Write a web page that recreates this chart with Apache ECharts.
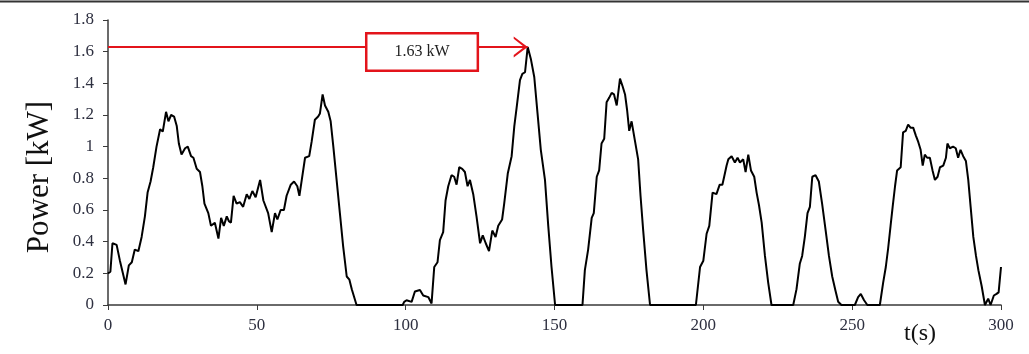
<!DOCTYPE html>
<html>
<head>
<meta charset="utf-8">
<script src="https://cdn.jsdelivr.net/npm/echarts@6/dist/echarts.min.js"></script>
<style>
  html, body { margin: 0; padding: 0; background: #fff; }
  #chart { width: 1029px; height: 354px; }
</style>
</head>
<body>
<div id="chart"></div>
<script>
// Drive-cycle power demand, time in seconds
const timeS = [
  0, 0.8, 1.5, 2.9, 4, 5.9, 7, 8, 9, 10.2, 10.7, 11.3, 12.4, 13.3, 14.3, 15.2, 16.3, 17.5, 18.4, 19.5,
  20.3, 21.2, 22.2, 23.1, 23.8, 24.7, 25.9, 26.8, 27.9, 28.7, 29.8, 30.9, 31.7, 32.4, 33.7, 34.6, 35.9, 37.1, 38, 38.9,
  39.9, 40.6, 41.3, 42.2, 43.2, 44.3, 45.4, 46.6, 47.5, 48.5, 49.6, 51.1, 52.2, 53.8, 55, 56.1, 56.9, 58, 59.1, 60,
  61.4, 62.5, 63.6, 64.3, 65.1, 66.2, 67.6, 68.4, 69.5, 70.6, 71.2, 72.1, 72.9, 74, 74.8, 75.7, 76.8, 77.9, 79, 80.2,
  81.1, 81.9, 83.5, 99, 99.5, 100.3, 102, 103.1, 104.8, 105.9, 107.6, 108.7, 109.6, 110.7, 111.5, 112.6, 113.4, 114.3, 115.4, 116.3,
  117.1, 118, 119, 119.9, 120.8, 121.6, 122.7, 123.8, 125, 125.9, 126.9, 128, 129.1, 130.2, 131.1, 132.4, 133.1, 134.3, 135.6, 136.5,
  137.3, 138.4, 139.2, 140.1, 141, 142.1, 143.2, 144.3, 145.4, 146.8, 147.9, 149, 150.2, 159.4, 160.2, 161.3, 162.5, 163.2, 164.2, 165,
  165.8, 166.7, 167.5, 168.4, 169.2, 170, 170.9, 172, 172.9, 173.7, 174.4, 175.1, 175.9, 177, 178.1, 178.9, 179.8, 180.9, 182.1, 197.5,
  198.9, 200, 201.1, 202, 203.1, 204.4, 205.5, 206.4, 207, 207.8, 208.4, 209.5, 210.6, 211.5, 212.3, 213.4, 214.2, 215.1, 216, 217.1,
  217.9, 218.7, 219.6, 220.7, 221.8, 222.9, 230.2, 231.3, 232.4, 233.2, 234.1, 235, 235.8, 236.6, 237.7, 238.8, 239.9, 241.1, 242.2, 243.3,
  244.4, 245.3, 246.4, 250.9, 252, 252.9, 254, 255.1, 259.3, 260.4, 261.3, 262.1, 262.9, 263.6, 264.4, 265.1, 266.3, 267.1, 268, 268.8,
  269.6, 270.5, 271.4, 272.2, 273, 273.7, 274.4, 275.2, 276.1, 277, 277.8, 278.7, 279.5, 280.6, 281.5, 282, 282.8, 283.9, 284.8, 285.6,
  286.4, 287.3, 288.2, 289, 289.8, 290.7, 291.6, 292.4, 293.5, 294.6, 295.7, 296.5, 297.6, 298.5, 299.2, 300
];
// Power in kW, one value per entry of timeS
const powerKW = [
  0.20, 0.21, 0.39, 0.38, 0.28, 0.13, 0.25, 0.27, 0.35, 0.34, 0.33, 0.43, 0.56, 0.71, 0.78, 0.87, 1.00, 1.11, 1.095, 1.22,
  1.16, 1.20, 1.19, 1.13, 1.02, 0.95, 0.99, 1.00, 0.94, 0.93, 0.86, 0.84, 0.75, 0.64, 0.58, 0.50, 0.52, 0.42, 0.55, 0.50,
  0.56, 0.53, 0.52, 0.69, 0.64, 0.65, 0.62, 0.70, 0.67, 0.72, 0.68, 0.79, 0.66, 0.58, 0.46, 0.58, 0.54, 0.60, 0.60, 0.69,
  0.76, 0.78, 0.75, 0.69, 0.79, 0.93, 0.94, 1.03, 1.17, 1.19, 1.21, 1.33, 1.26, 1.22, 1.16, 1.00, 0.79, 0.58, 0.37, 0.18,
  0.16, 0.10, 0, 0, 0.02, 0.03, 0.02, 0.085, 0.095, 0.06, 0.05, 0.01, 0.24, 0.27, 0.41, 0.46, 0.66, 0.75, 0.82, 0.81,
  0.76, 0.87, 0.86, 0.84, 0.75, 0.79, 0.70, 0.56, 0.39, 0.44, 0.39, 0.34, 0.47, 0.43, 0.50, 0.54, 0.64, 0.83, 0.94, 1.13,
  1.25, 1.42, 1.46, 1.47, 1.63, 1.55, 1.44, 1.21, 0.98, 0.79, 0.50, 0.24, 0, 0, 0.22, 0.35, 0.55, 0.58, 0.81, 0.85,
  1.02, 1.05, 1.28, 1.31, 1.34, 1.33, 1.26, 1.43, 1.38, 1.33, 1.23, 1.10, 1.16, 1.04, 0.92, 0.69, 0.47, 0.22, 0, 0,
  0.24, 0.28, 0.45, 0.50, 0.71, 0.70, 0.76, 0.76, 0.81, 0.88, 0.92, 0.94, 0.90, 0.93, 0.90, 0.92, 0.84, 0.95, 0.85, 0.81,
  0.71, 0.63, 0.52, 0.31, 0.14, 0, 0, 0.10, 0.26, 0.31, 0.43, 0.58, 0.62, 0.81, 0.82, 0.78, 0.64, 0.47, 0.31, 0.18,
  0.09, 0.02, 0, 0, 0.05, 0.07, 0.03, 0, 0, 0.14, 0.24, 0.36, 0.50, 0.62, 0.75, 0.85, 0.87, 1.09, 1.10, 1.14,
  1.12, 1.12, 1.07, 1.03, 0.98, 0.88, 0.95, 0.93, 0.93, 0.85, 0.79, 0.81, 0.87, 0.88, 0.93, 1.02, 0.99, 1.00, 0.99, 0.93,
  0.98, 0.94, 0.91, 0.79, 0.62, 0.43, 0.31, 0.22, 0.12, 0, 0.04, 0, 0.06, 0.07, 0.08, 0.24
];
// Axis ticks
const xTicks = [0, 50, 100, 150, 200, 250, 300];
const yTicks = [0, 0.2, 0.4, 0.6, 0.8, 1, 1.2, 1.4, 1.6, 1.8];

// Peak of the cycle, taken from the series itself
const peakIdx = powerKW.indexOf(Math.max(...powerKW));
const peakT = timeS[peakIdx];
const peakP = powerKW[peakIdx];
const peakLabel = peakP.toFixed(2) + ' kW';
const boxT = 105.5; // time at which the callout box sits

const seriesData = timeS.map((t, i) => [t, powerKW[i]]);

const SERIF = '"Liberation Serif", "DejaVu Serif", serif';
const RED = '#e3141b';
const TICK_COLOR = '#2e3040';

// Open chevron whose tip sits at the centre of a 20x20 box (tiny corner
// specks pin the bounding box so the tip lands on the line end)
const OPEN_ARROW = 'path://M0,0 L0.01,0 L0,0.01 Z M20,0 L19.99,0 L20,0.01 Z ' +
  'M2.5,20 L10,10 L17.5,20 L15.8,20 L10,12.6 L4.2,20 Z';

const chart = echarts.init(document.getElementById('chart'), null, { renderer: 'canvas' });
chart.setOption({
  animation: false,
  backgroundColor: '#fff',
  grid: { left: 108, right: 28, top: 20, bottom: 49, containLabel: false },
  xAxis: {
    type: 'value',
    min: xTicks[0],
    max: xTicks[xTicks.length - 1],
    interval: xTicks[1] - xTicks[0],
    splitLine: { show: false },
    axisLine: { lineStyle: { color: '#3a3a3a', width: 1.5 } },
    axisTick: { show: true, length: 5, lineStyle: { color: '#3a3a3a' } },
    axisLabel: { color: TICK_COLOR, fontFamily: SERIF, fontSize: 17, margin: 12 }
  },
  yAxis: {
    type: 'value',
    min: yTicks[0],
    max: yTicks[yTicks.length - 1],
    interval: 0.2,
    splitLine: { show: false },
    axisLine: { show: true, lineStyle: { color: '#3a3a3a', width: 1.5 } },
    axisTick: { show: true, length: 5, lineStyle: { color: '#3a3a3a' } },
    axisLabel: {
      color: TICK_COLOR, fontFamily: SERIF, fontSize: 17, margin: 14,
      formatter: v => String(Math.round(v * 10) / 10)
    }
  },
  graphic: [
    { type: 'line', shape: { x1: 0, y1: 1.5, x2: 1029, y2: 1.5 }, style: { stroke: '#333', lineWidth: 2 } },
    {
      type: 'text', x: 40, y: 177, rotation: Math.PI / 2,
      style: { text: 'Power [kW]', fill: '#111', font: '31px ' + SERIF, textAlign: 'center', textVerticalAlign: 'middle' }
    },
    {
      type: 'text', x: 920, y: 334,
      style: { text: 't(s)', fill: '#111', font: '24px ' + SERIF, textAlign: 'center', textVerticalAlign: 'middle' }
    }
  ],
  series: [{
    type: 'line',
    data: seriesData,
    showSymbol: false,
    symbol: 'none',
    lineStyle: { color: '#000', width: 2 },
    markLine: {
      silent: true,
      symbol: ['none', OPEN_ARROW],
      symbolSize: 28,
      label: { show: false },
      lineStyle: { color: RED, width: 2, type: 'solid' },
      data: [[{ coord: [0, peakP] }, { coord: [peakT, peakP] }]]
    },
    markPoint: {
      silent: true,
      data: [{
        coord: [boxT, peakP],
        symbol: 'circle',
        symbolSize: 1,
        itemStyle: { color: 'rgba(0,0,0,0)' },
        label: {
          show: true, position: 'inside', formatter: peakLabel,
          color: '#222', fontFamily: SERIF, fontSize: 16, offset: [0, 5],
          backgroundColor: '#fff', borderColor: RED, borderWidth: 2.5,
          padding: [10, 27, 9, 27]
        }
      }]
    }
  }]
});
</script>
</body>
</html>
